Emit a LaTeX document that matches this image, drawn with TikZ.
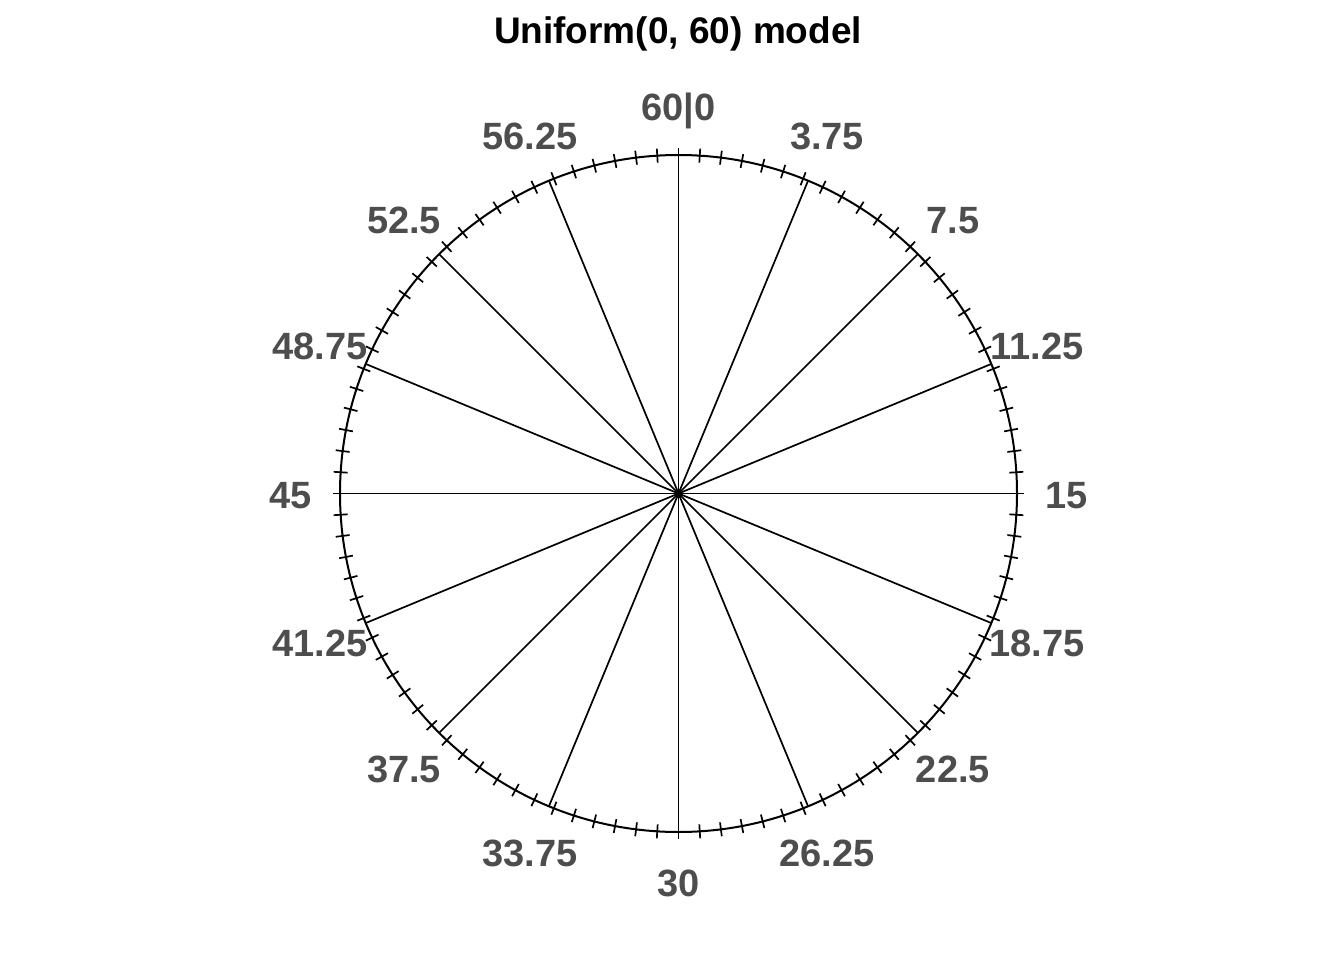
\documentclass[tikz,border=0pt]{standalone}
\usepackage{fontspec}
\setmainfont{Liberation Sans}
\definecolor{lblgray}{HTML}{4D4D4D}
\tikzset{
  lbl/.style={font=\fontsize{38}{42}\selectfont\bfseries, text=lblgray, inner sep=0pt, text height=0.72em, text depth=0pt, anchor=center},
  ttl/.style={font=\fontsize{37}{41}\selectfont\bfseries, text=black, inner sep=0pt, anchor=center},
  rim/.style={line width=2pt, black},
  spoke/.style={line width=1.7pt, black},
  tick/.style={line width=1.7pt, black}
}
\begin{document}
\begin{tikzpicture}[x=1pt,y=-1pt]
\useasboundingbox (0,0) rectangle (1344,960);
\coordinate (O) at (678.5,493.5);
\node[ttl] (title) at (678,34) {Uniform(0, 60) model};
\draw[rim] (O) circle[radius=338.5];
\foreach \i in {0,...,99}{
  \pgfmathsetmacro{\a}{3.6*\i}
  \coordinate (ti\i) at ({678.5+331.5*sin(\a)},{493.5-331.5*cos(\a)});
  \coordinate (to\i) at ({678.5+345.5*sin(\a)},{493.5-345.5*cos(\a)});
  \draw[tick] (ti\i) -- (to\i);
}
\foreach \k/\t in {0/60|0,1/3.75,2/7.5,3/11.25,4/15,5/18.75,6/22.5,7/26.25,8/30,9/33.75,10/37.5,11/41.25,12/45,13/48.75,14/52.5,15/56.25}{
  \pgfmathsetmacro{\a}{22.5*\k}
  \coordinate (p\k) at ({678.5+338.5*sin(\a)},{493.5-338.5*cos(\a)});
  \draw[spoke] (O) -- (p\k);
  \node[lbl] (l\k) at ({678.5+388*sin(\a)},{504.5-388*cos(\a)}) {\t};
}
\end{tikzpicture}
\end{document}
